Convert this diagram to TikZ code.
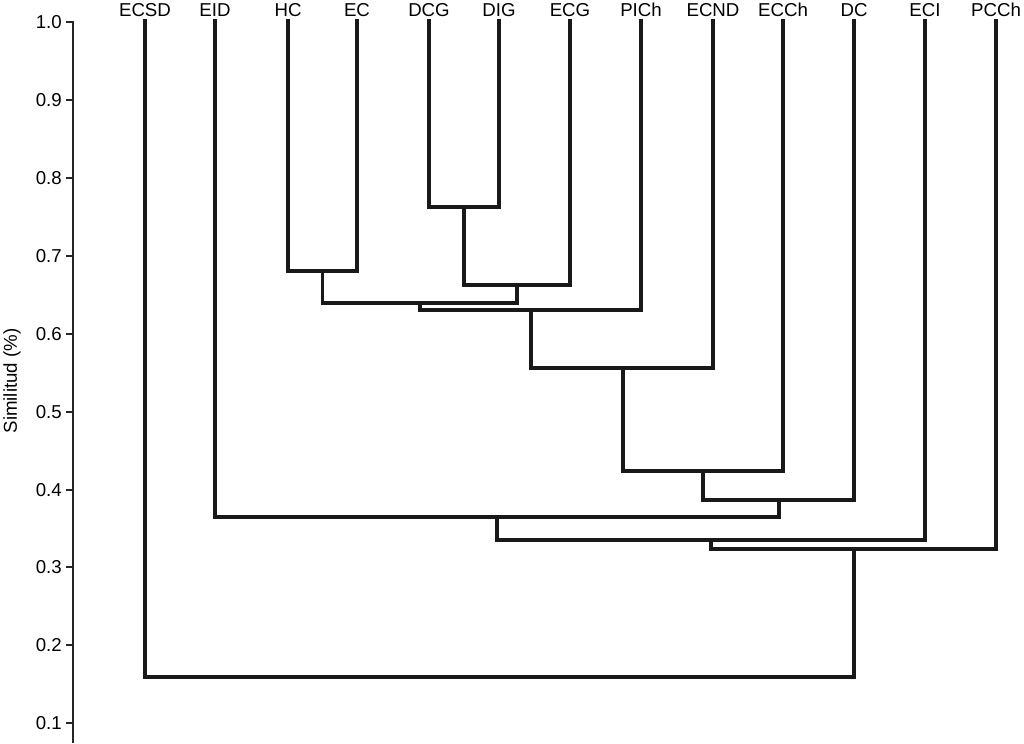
\documentclass[tikz,border=0pt]{standalone}
\usepackage{fontspec}
\setmainfont{Liberation Sans}
\begin{document}
\begin{tikzpicture}[x=0.75pt,y=-0.75pt,
  tree/.style={line width=2.6pt,color=black!90,line cap=rect},
  axisline/.style={line width=1.6pt,color=black!85},
  leaflabel/.style={font=\fontsize{14}{16}\selectfont,inner sep=0pt,anchor=center},
  ticklabel/.style={font=\fontsize{14}{16}\selectfont,inner sep=0pt,anchor=east}]
\useasboundingbox (0,0) rectangle (1024,743);
% axis
\coordinate (axtop) at (73,21);
\coordinate (axbot) at (73,743);
\draw[axisline] (axtop) -- (axbot);
\foreach \k/\v/\yy in {a/1.0/22,b/0.9/100,c/0.8/178,d/0.7/256,e/0.6/334,f/0.5/412,g/0.4/490,h/0.3/567,i/0.2/645,j/0.1/723}{
  \coordinate (t\k) at (73,\yy);
  \draw[axisline] (t\k) -- ++(-7,0);
  \node[ticklabel] (lab\k) at (62,\yy) {\v};
}
\node[font=\fontsize{14}{16}\selectfont,rotate=90,inner sep=0pt] (ytitle) at (12,381) {Similitud (\%)};
% leaves
\foreach \n/\xx in {ECSD/145,EID/215,HC/288,EC/357,DCG/429,DIG/499,ECG/570,PICh/641,ECND/713,ECCh/783,DC/854,ECI/925,PCCh/996}{
  \coordinate (\n) at (\xx,21);
  \node[leaflabel] (l\n) at (\xx,10) {\n};
}
% merge points
\coordinate (m1) at (322.5,271);
\coordinate (m2) at (464,207);
\coordinate (m3) at (517,285);
\coordinate (m4) at (420,303);
\coordinate (m5) at (531,310);
\coordinate (m6) at (623,368);
\coordinate (m7) at (703,471);
\coordinate (m8) at (779,500);
\coordinate (m9) at (497,517);
\coordinate (m10) at (711,540);
\coordinate (m11) at (854,549);
\coordinate (m12) at (500,677);
\draw[tree] (HC) |- (m1) -| (EC);
\draw[tree] (DCG) |- (m2) -| (DIG);
\draw[tree] (m2) |- (m3) -| (ECG);
\draw[tree] (m1) |- (m4) -| (m3);
\draw[tree] (m4) |- (m5) -| (PICh);
\draw[tree] (m5) |- (m6) -| (ECND);
\draw[tree] (m6) |- (m7) -| (ECCh);
\draw[tree] (m7) |- (m8) -| (DC);
\draw[tree] (EID) |- (m9) -| (m8);
\draw[tree] (m9) |- (m10) -| (ECI);
\draw[tree] (m10) |- (m11) -| (PCCh);
\draw[tree] (ECSD) |- (m12) -| (m11);
\end{tikzpicture}
\end{document}
